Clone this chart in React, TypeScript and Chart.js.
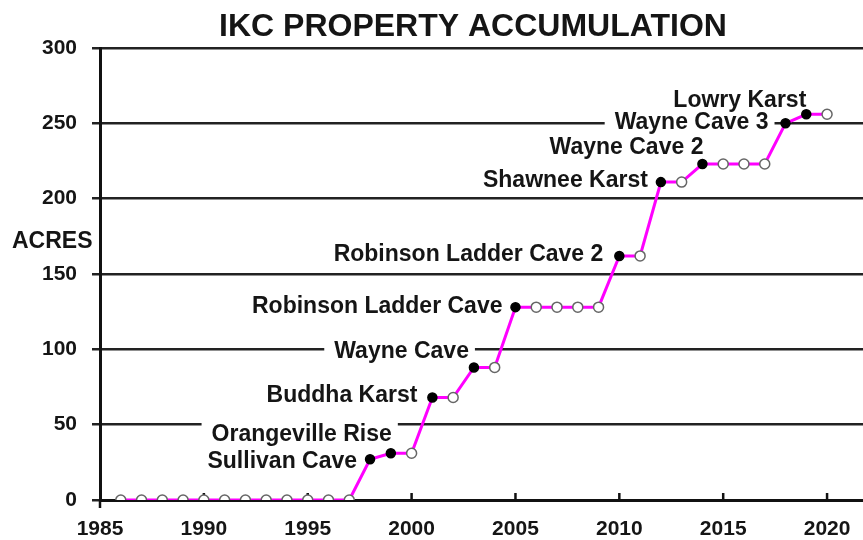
import React, { useEffect, useRef } from "react";
import { Chart, registerables } from "chart.js";

Chart.register(...registerables);

const years: number[] = [
  1986, 1987, 1988, 1989, 1990, 1991, 1992, 1993, 1994, 1995, 1996, 1997,
  1998, 1999, 2000, 2001, 2002, 2003, 2004, 2005, 2006, 2007, 2008, 2009,
  2010, 2011, 2012, 2013, 2014, 2015, 2016, 2017, 2018, 2019, 2020,
];
const acres: number[] = [
  0, 0, 0, 0, 0, 0, 0, 0, 0, 0, 0, 0,
  27, 31, 31, 68, 68, 88, 88, 128, 128, 128, 128, 128,
  162, 162, 211, 211, 223, 223, 223, 223, 250, 256, 256,
];
const acquisitionYears: number[] = [1998, 1999, 2001, 2003, 2005, 2010, 2012, 2014, 2018, 2019];
const acquisitionNames: string[] = [
  "Sullivan Cave",
  "Orangeville Rise",
  "Buddha Karst",
  "Wayne Cave",
  "Robinson Ladder Cave",
  "Robinson Ladder Cave 2",
  "Shawnee Karst",
  "Wayne Cave 2",
  "Wayne Cave 3",
  "Lowry Karst",
];
const xTickYears: number[] = [1985, 1990, 1995, 2000, 2005, 2010, 2015, 2020];
const yTickValues: number[] = [0, 50, 100, 150, 200, 250, 300];

const TITLE = "IKC PROPERTY ACCUMULATION";
const Y_TITLE = "ACRES";

// label placement style (pixel offsets from the point: right edge dx, cap-centre dy)
const labelOffsets: [number, number][] = [
  [-13, 0],
  [1, -21],
  [-15, -4],
  [-5, -18],
  [-13, -2],
  [-16, -3],
  [-13, -3],
  [1, -18],
  [-17, -3],
  [0, -16],
];

const FONT = "'Liberation Sans', Arial, Helvetica, sans-serif";
const TEXT = "#151515";

const decorPlugin = {
  id: "decor",
  beforeDatasetsDraw(chart: any) {
    const ctx = chart.ctx;
    const meta = chart.getDatasetMeta(0);
    const xs = chart.scales.x;
    const area = chart.chartArea;
    ctx.save();
    // x-axis tick marks pointing up
    ctx.strokeStyle = "#111";
    ctx.lineWidth = 2.5;
    xTickYears.forEach((v) => {
      const px = xs.getPixelForValue(v);
      ctx.beginPath();
      if (v === xTickYears[0]) {
        ctx.moveTo(px, area.bottom);
        ctx.lineTo(px, area.bottom + 8);
      } else {
        ctx.moveTo(px, area.bottom);
        ctx.lineTo(px, area.bottom - 7);
      }
      ctx.stroke();
    });
    // labels with white backgrounds
    const fs = 23;
    ctx.font = `bold ${fs}px ${FONT}`;
    ctx.textAlign = "right";
    ctx.textBaseline = "alphabetic";
    acquisitionYears.forEach((yr, i) => {
      const idx = years.indexOf(yr);
      const pt = meta.data[idx];
      if (!pt) return;
      const [dx, dy] = labelOffsets[i];
      const right = pt.x + dx;
      const cy = pt.y + dy;
      const w = ctx.measureText(acquisitionNames[i]).width;
      ctx.fillStyle = "#ffffff";
      ctx.fillRect(right - w - 10, cy - 11, w + 16, 22);
      ctx.fillStyle = TEXT;
      ctx.fillText(acquisitionNames[i], right, cy + 0.716 * fs / 2);
    });
    ctx.restore();
  },
  afterDraw(chart: any) {
    const ctx = chart.ctx;
    ctx.save();
    ctx.fillStyle = TEXT;
    ctx.font = `bold 32px ${FONT}`;
    ctx.textAlign = "center";
    ctx.textBaseline = "alphabetic";
    ctx.fillText(TITLE, 473, 36);
    ctx.font = `bold 23px ${FONT}`;
    ctx.textAlign = "left";
    ctx.fillText(Y_TITLE, 12, 248);
    ctx.restore();
  },
};

export default function App() {
  const canvasRef = useRef<HTMLCanvasElement | null>(null);

  useEffect(() => {
    if (!canvasRef.current) return;
    const acquired = new Set(acquisitionYears);
    const chart = new Chart(canvasRef.current, {
      type: "line",
      data: {
        datasets: [
          {
            data: years.map((y, i) => ({ x: y, y: acres[i] })),
            borderColor: "#ff00ff",
            borderWidth: 3,
            tension: 0,
            pointRadius: years.map((y) => (acquired.has(y) ? 4.5 : 5)),
            pointBackgroundColor: years.map((y) => (acquired.has(y) ? "#000000" : "#ffffff")),
            pointBorderColor: years.map((y) => (acquired.has(y) ? "#000000" : "#666666")),
            pointBorderWidth: 1.5,
          },
        ],
      },
      options: {
        animation: false,
        responsive: true,
        maintainAspectRatio: false,
        layout: { autoPadding: false, padding: { top: 48, right: 0, left: 0, bottom: 0 } },
        plugins: {
          legend: { display: false },
          title: { display: false },
          tooltip: { enabled: false },
        },
        scales: {
          x: {
            type: "linear",
            min: 1985,
            max: 2021.73,
            afterBuildTicks: (scale: any) => {
              scale.ticks = xTickYears.map((v) => ({ value: v }));
            },
            afterFit: (scale: any) => {
              scale.height = 40;
              scale.paddingRight = 0;
              scale.paddingLeft = 0;
            },
            grid: { display: false },
            border: { display: true, color: "#111", width: 3 },
            ticks: {
              autoSkip: false,
              maxRotation: 0,
              padding: 9,
              color: TEXT,
              font: { family: FONT, size: 21, weight: "bold" },
              callback: (v: any) => String(v),
            },
          },
          y: {
            min: 0,
            max: 300,
            afterBuildTicks: (scale: any) => {
              scale.ticks = yTickValues.map((v) => ({ value: v }));
            },
            afterFit: (scale: any) => {
              scale.width = 100;
            },
            grid: { color: "#222", lineWidth: 2.5, tickLength: 8 },
            border: { display: true, color: "#111", width: 3 },
            ticks: {
              padding: 15,
              color: TEXT,
              font: { family: FONT, size: 21, weight: "bold" },
            },
          },
        },
      },
      plugins: [decorPlugin],
    });
    return () => chart.destroy();
  }, []);

  return (
    <div style={{ position: "fixed", left: 0, top: 0, width: 863, height: 540, background: "#fff" }}>
      <canvas ref={canvasRef} />
    </div>
  );
}
